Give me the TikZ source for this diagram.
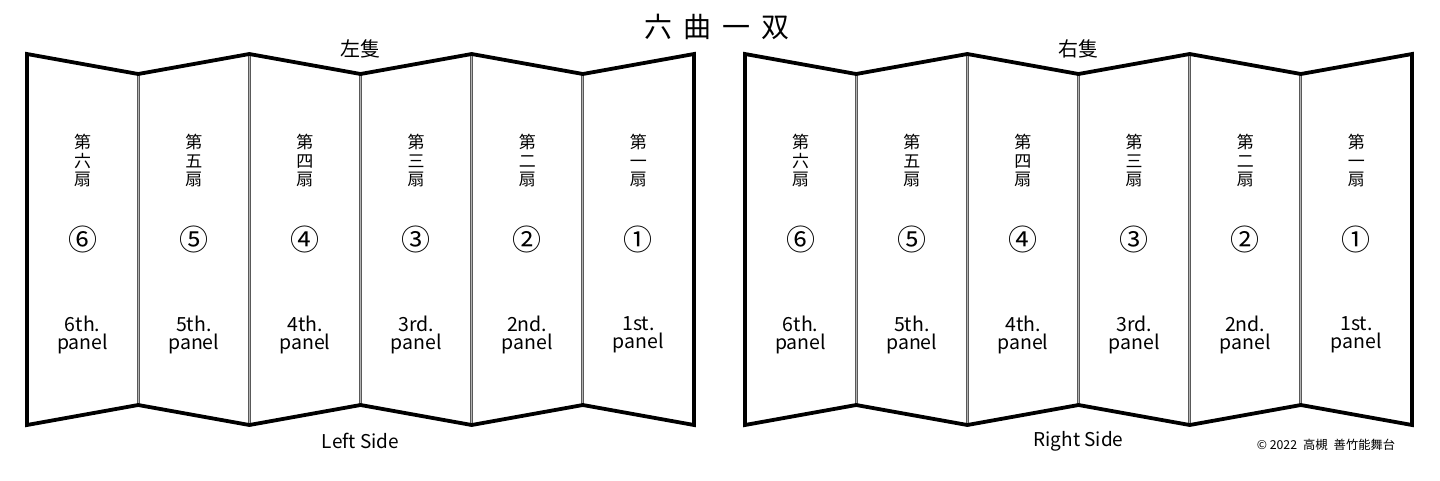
\documentclass[tikz,border=0pt]{standalone}
\usepackage{fontspec}
\setmainfont{Noto Sans CJK JP}
\begin{document}
\begin{tikzpicture}[x=1pt,y=-1pt,
  outline/.style={line width=3.8pt,line join=miter,black},
  divider/.style={draw=black!65,line width=0.9pt,double=black!30,double distance=1pt},
  kanjilbl/.style={align=center,inner sep=0pt,font=\fontsize{17}{18.5}\selectfont},
  circlbl/.style={inner sep=0pt,font=\fontsize{29}{29}\selectfont},
  enlbl/.style={align=center,inner sep=0pt,font=\fontsize{19.5}{17.5}\selectfont},
  sidelbl/.style={inner sep=0pt,font=\fontsize{19}{19}\selectfont},
  toplbl/.style={inner sep=0pt,font=\fontsize{20}{20}\selectfont}]
\useasboundingbox (0,0) rectangle (1440,480);
\def\pw{111.17}
\node[inner sep=0pt,font=\fontsize{28}{28}\selectfont] (title) at (717,27) {六\hspace{11pt}曲\hspace{11pt}一\hspace{11pt}双};
\foreach \sx/\nm/\jp/\en in {27/L/左隻/Left Side, 745/R/右隻/Right Side}{
  % dividers
  \foreach \j in {1,...,5}{
    \pgfmathsetmacro{\ty}{mod(\j,2)==0 ? 54 : 74}
    \pgfmathsetmacro{\by}{mod(\j,2)==0 ? 425 : 405}
    \pgfmathsetmacro{\dx}{\sx+\j*\pw}
    \draw[divider] (\dx,\ty) -- (\dx,\by);
  }
  % outline
  \draw[outline] (\sx,425) -- (\sx,54) -- ++(\pw,20) -- ++(\pw,-20) -- ++(\pw,20) -- ++(\pw,-20) -- ++(\pw,20) -- ++(\pw,-20)
     -- ++(0,371) -- ++(-\pw,-20) -- ++(-\pw,20) -- ++(-\pw,-20) -- ++(-\pw,20) -- ++(-\pw,-20) -- cycle;
  \node[toplbl] (\nm top) at (\sx+333.5,49) {\jp};
  \node[sidelbl] (\nm side) at (\sx+333.5,441) {\en};
  \foreach \j/\kn/\cn/\th in {0/六/⑥/6th., 1/五/⑤/5th., 2/四/④/4th., 3/三/③/3rd., 4/二/②/2nd., 5/一/①/1st.}{
    \pgfmathsetmacro{\cx}{\sx+(\j+0.5)*\pw}
    \node[kanjilbl] (\nm k\j) at (\cx,161) {第\\\kn\\扇};
    \node[circlbl] (\nm c\j) at (\cx,239) {\cn};
    \node[enlbl] (\nm e\j) at (\cx,335) {\th\\panel};
  }
}
\node[inner sep=0pt,font=\fontsize{12.3}{12.3}\selectfont] (copy) at (1326,445) {© 2022\hspace{6pt}高槻\hspace{6pt}善竹能舞台};
\end{tikzpicture}
\end{document}
